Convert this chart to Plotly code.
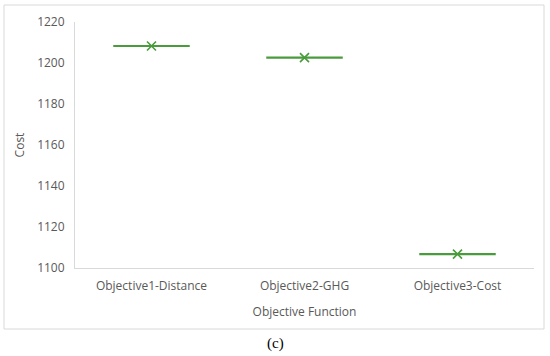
import plotly.graph_objects as go

categories = ["Objective1-Distance", "Objective2-GHG", "Objective3-Cost"]
cost_values = [1208.3, 1202.6, 1106.8]
y_ticks = [1100, 1120, 1140, 1160, 1180, 1200, 1220]

green = "#4a9b3c"
gray_text = "#595959"
font_main = "Open Sans"

x_idx = list(range(len(categories)))

fig = go.Figure()
fig.add_trace(go.Scatter(
    x=x_idx, y=cost_values, mode="markers",
    marker=dict(symbol="x-thin", size=9, line=dict(color=green, width=1.6), color=green),
    error_x=dict(type="constant", value=0.25, thickness=2.2, width=0, color=green),
    showlegend=False, hoverinfo="y",
))

L, R, T, B = 75, 16, 22, 88
W, H = 550, 356
pw, ph = W - L - R, H - T - B

def px(x):
    return (x - L) / pw

def py(y):
    return (H - B - y) / ph

fig.update_layout(
    width=W, height=H,
    margin=dict(l=L, r=R, t=T, b=B, autoexpand=False),
    paper_bgcolor="white", plot_bgcolor="white",
    font=dict(family=font_main, size=12, color=gray_text),
    xaxis=dict(
        range=[-0.5, 2.5], tickvals=x_idx, ticktext=categories,
        showgrid=False, zeroline=False, showline=True, linecolor="#d9d9d9", linewidth=1,
        ticks="", tickfont=dict(size=12, color=gray_text), ticklabelstandoff=7,
        title=dict(text="Objective Function", font=dict(size=12, color=gray_text), standoff=14),
    ),
    yaxis=dict(
        range=[1100, 1220], tickvals=y_ticks,
        showgrid=False, zeroline=False, showline=True, linecolor="#d9d9d9", linewidth=1,
        ticks="", tickfont=dict(size=12, color=gray_text), ticklabelstandoff=7,
        title=dict(text="Cost", font=dict(size=12, color=gray_text), standoff=9),
    ),
    shapes=[dict(type="rect", xref="paper", yref="paper",
                 x0=px(4), x1=px(544), y0=py(329), y1=py(5),
                 line=dict(color="#d9d9d9", width=1), fillcolor="rgba(0,0,0,0)", layer="below")],
    annotations=[dict(text="(c)", xref="paper", yref="paper", x=px(275), y=py(343),
                      showarrow=False, font=dict(family="Liberation Serif", size=15, color="black"),
                      xanchor="center", yanchor="middle")],
)

fig.write_html("out.html", config={"displayModeBar": False},
               post_script="document.body.style.margin='0';document.body.style.overflow='hidden';")
